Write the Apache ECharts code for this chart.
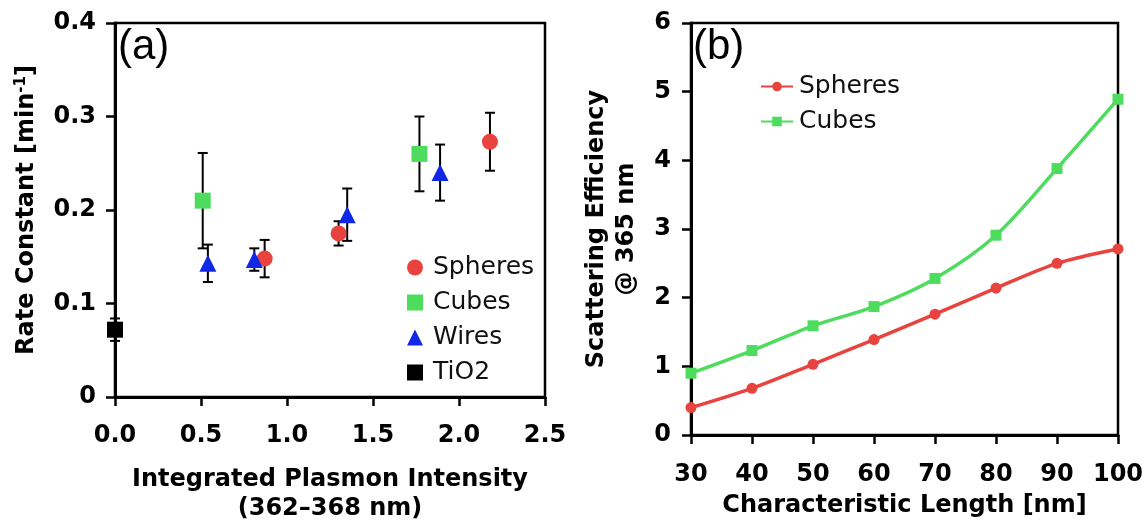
<!DOCTYPE html>
<html>
<head>
<meta charset="utf-8">
<script src="https://cdn.jsdelivr.net/npm/echarts@6/dist/echarts.min.js"></script>
<style>
  html, body { margin: 0; padding: 0; background: #fff; }
  #chart { width: 1147px; height: 522px; }
</style>
</head>
<body>
<div id="chart"></div>
<script>
// ---- Panel (a): rate constant vs. integrated plasmon intensity ----
const spheresX   = [0.87, 1.30, 2.18];
const spheresY   = [0.148, 0.175, 0.273];
const spheresErr = [0.020, 0.013, 0.031];

const cubesX   = [0.51, 1.77];
const cubesY   = [0.210, 0.260];
const cubesErr = [0.051, 0.040];

const wiresX   = [0.54, 0.81, 1.35, 1.89];
const wiresY   = [0.143, 0.147, 0.195, 0.240];
const wiresErr = [0.020, 0.012, 0.028, 0.030];

const tio2X   = [0.0];
const tio2Y   = [0.072];
const tio2Err = [0.012];

const rateXTicks = ['0.0', '0.5', '1.0', '1.5', '2.0', '2.5'];
const rateYTicks = ['0', '0.1', '0.2', '0.3', '0.4'];

// ---- Panel (b): scattering efficiency vs. characteristic length ----
const lengths    = [30, 40, 50, 60, 70, 80, 90, 100];
const spheresEff = [0.40, 0.68, 1.03, 1.39, 1.76, 2.14, 2.50, 2.71];
const cubesEff   = [0.90, 1.23, 1.59, 1.87, 2.28, 2.91, 3.88, 4.89];

const effYTicks = ['0', '1', '2', '3', '4', '5', '6'];
const lenXTicks = ['30', '40', '50', '60', '70', '80', '90', '100'];

const RED = '#e8433f', GREEN = '#4ddc5d', BLUE = '#1127e6', BLACK = '#000';
const FONT = 'DejaVu Sans';

const pairs = (xs, ys) => xs.map((x, i) => [x, ys[i]]);

// vertical error bars with caps
function errorBars(xs, ys, es) {
  return {
    type: 'custom', xAxisIndex: 0, yAxisIndex: 0, z: 1, silent: true,
    data: xs.map((x, i) => [x, ys[i] - es[i], ys[i] + es[i]]),
    encode: { x: 0, y: [1, 2] },
    renderItem: (params, api) => {
      const lo = api.coord([api.value(0), api.value(1)]);
      const hi = api.coord([api.value(0), api.value(2)]);
      const w = 5;
      const style = { stroke: BLACK, lineWidth: 2, fill: null };
      return {
        type: 'group',
        children: [
          { type: 'line', shape: { x1: lo[0], y1: lo[1], x2: hi[0], y2: hi[1] }, style },
          { type: 'line', shape: { x1: lo[0] - w, y1: lo[1], x2: lo[0] + w, y2: lo[1] }, style },
          { type: 'line', shape: { x1: hi[0] - w, y1: hi[1], x2: hi[0] + w, y2: hi[1] }, style }
        ]
      };
    }
  };
}

function scatter(name, xs, ys, symbol, size, color) {
  return {
    name, type: 'scatter', xAxisIndex: 0, yAxisIndex: 0, z: 3, clip: false,
    symbol, symbolSize: size, itemStyle: { color, opacity: 1 },
    data: pairs(xs, ys)
  };
}

const axisLine = { show: true, onZero: false, lineStyle: { color: BLACK, width: 3 } };
const axisTick = { show: true, inside: false, length: 9, lineStyle: { color: BLACK, width: 2.5 } };
const tickFont = { color: BLACK, fontFamily: FONT, fontWeight: 'bold', fontSize: 24 };
const titleFont = { color: BLACK, fontFamily: FONT, fontWeight: 'bold', fontSize: 24 };
const legendText = { fontFamily: FONT, fontSize: 25, lineHeight: 25, color: '#111', padding: [0, 0, 0, 5] };

const chart = echarts.init(document.getElementById('chart'), null, { renderer: 'canvas' });

chart.setOption({
  animation: false,
  backgroundColor: '#fff',
  textStyle: { fontFamily: FONT },
  grid: [
    { left: 115, top: 23, width: 430, height: 374, outerBoundsMode: 'none', containLabel: false,
      show: true, borderColor: BLACK, borderWidth: 2.5, backgroundColor: 'transparent' },
    { left: 691, top: 23, width: 427, height: 412, outerBoundsMode: 'none', containLabel: false,
      show: true, borderColor: BLACK, borderWidth: 2.5, backgroundColor: 'transparent' }
  ],
  xAxis: [
    {
      gridIndex: 0, type: 'value', min: 0, max: 2.5, interval: 0.5,
      axisLine, axisTick, splitLine: { show: false },
      axisLabel: { ...tickFont, margin: 27, formatter: (v, i) => rateXTicks[i] },
      name: 'Integrated Plasmon Intensity\n(362\u2013368 nm)',
      nameLocation: 'middle', nameGap: 68,
      nameTextStyle: { ...titleFont, lineHeight: 29 }
    },
    {
      gridIndex: 1, type: 'value', min: 30, max: 100, interval: 10,
      axisLine, axisTick, splitLine: { show: false },
      axisLabel: { ...tickFont, margin: 28, formatter: (v, i) => lenXTicks[i] },
      name: 'Characteristic Length [nm]',
      nameLocation: 'middle', nameGap: 58,
      nameTextStyle: { ...titleFont, lineHeight: 26 }
    }
  ],
  yAxis: [
    {
      gridIndex: 0, type: 'value', min: 0, max: 0.4, interval: 0.1,
      axisLine, axisTick, splitLine: { show: false },
      axisLabel: { ...tickFont, margin: 19, formatter: (v, i) => rateYTicks[i] },
      name: 'Rate Constant [min{sup|-1}]',
      nameLocation: 'middle', nameGap: 75,
      nameTextStyle: {
        ...titleFont, lineHeight: 26,
        rich: { sup: { ...titleFont, fontSize: 15, lineHeight: 15, verticalAlign: 'top' } }
      }
    },
    {
      gridIndex: 1, type: 'value', min: 0, max: 6, interval: 1,
      axisLine, axisTick, splitLine: { show: false },
      axisLabel: { ...tickFont, margin: 20, formatter: (v, i) => effYTicks[i] },
      name: 'Scattering Efficiency\n@ 365 nm',
      nameLocation: 'middle', nameGap: 49,
      nameTextStyle: { ...titleFont, lineHeight: 30 }
    }
  ],
  legend: [
    {
      orient: 'vertical', left: 407, top: 255, padding: 0,
      itemWidth: 16, itemHeight: 16, itemGap: 10,
      textStyle: legendText,
      data: ['Spheres', 'Cubes', 'Wires', 'TiO2'],
      selectedMode: false
    },
    {
      orient: 'vertical', left: 760, top: 74, padding: 0,
      itemWidth: 32, itemHeight: 12, itemGap: 10,
      textStyle: { ...legendText, padding: [0, 0, 0, 1] },
      data: ['Spheres (b)', 'Cubes (b)'],
      formatter: n => n.replace(' (b)', ''),
      selectedMode: false
    }
  ],
  graphic: [
    { type: 'text', left: 118, top: 26, style: { text: '(a)', font: '42px "Liberation Sans"', fill: BLACK } },
    { type: 'text', left: 693, top: 26, style: { text: '(b)', font: '42px "Liberation Sans"', fill: BLACK } }
  ],
  series: [
    errorBars(spheresX, spheresY, spheresErr),
    errorBars(cubesX, cubesY, cubesErr),
    errorBars(wiresX, wiresY, wiresErr),
    errorBars(tio2X, tio2Y, tio2Err),
    scatter('Spheres', spheresX, spheresY, 'circle', 16, RED),
    scatter('Cubes', cubesX, cubesY, 'rect', 16, GREEN),
    scatter('Wires', wiresX, wiresY, 'triangle', 17, BLUE),
    scatter('TiO2', tio2X, tio2Y, 'rect', 16, BLACK),
    {
      name: 'Spheres (b)', type: 'line', xAxisIndex: 1, yAxisIndex: 1, clip: false,
      smooth: 0.3, symbol: 'circle', symbolSize: 11, showSymbol: true,
      lineStyle: { color: RED, width: 3.5 }, itemStyle: { color: RED },
      data: pairs(lengths, spheresEff)
    },
    {
      name: 'Cubes (b)', type: 'line', xAxisIndex: 1, yAxisIndex: 1, clip: false,
      smooth: 0.3, symbol: 'rect', symbolSize: 11, showSymbol: true,
      lineStyle: { color: GREEN, width: 3.5 }, itemStyle: { color: GREEN },
      data: pairs(lengths, cubesEff)
    }
  ]
});
</script>
</body>
</html>
